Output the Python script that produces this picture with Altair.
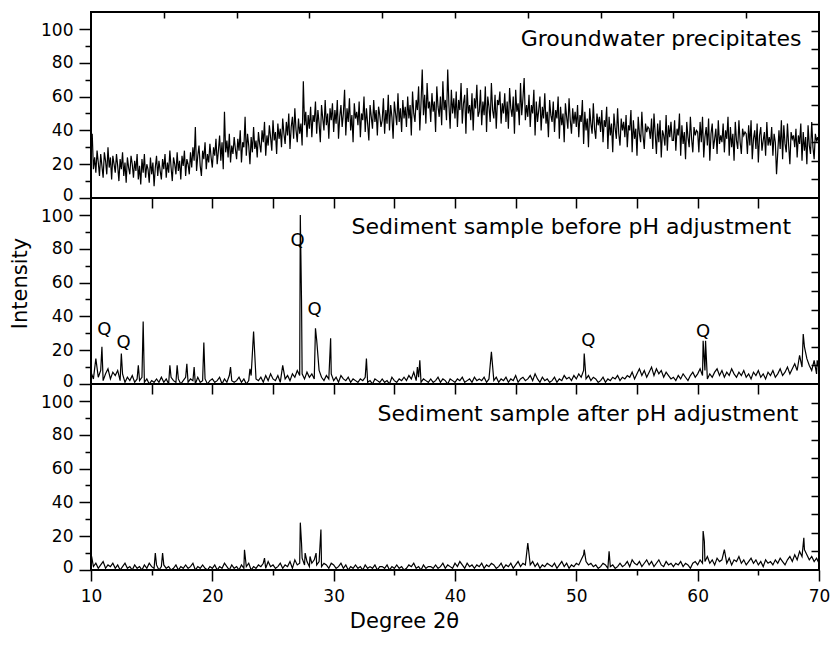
import altair as alt
import numpy as np
import pandas as pd

# ---------------- data ----------------
# Groundwater precipitates: one value every 0.1 degree from 10 to 70
GW_START, GW_STEP = 10.0, 0.1
gw_y = [
    30, 38, 17, 24, 15, 28, 21, 13, 26, 19, 12, 27, 22, 14, 30, 18, 24, 11, 25, 20,
    15, 26, 19, 10, 23, 17, 27, 13, 21, 9, 24, 18, 14, 25, 20, 12, 22, 16, 26, 11,
    19, 8, 23, 15, 26, 12, 20, 17, 9, 24, 14, 21, 7, 18, 25, 13, 22, 16, 11, 23,
    17, 26, 12, 21, 15, 28, 18, 10, 24, 20, 14, 27, 16, 22, 11, 25, 19, 28, 13, 23,
    20, 14, 27, 18, 30, 22, 42, 16, 25, 31, 19, 13, 28, 23, 33, 17, 26, 21, 32, 24,
    18, 30, 25, 35, 20, 28, 37, 22, 33, 17, 51, 27, 34, 24, 38, 21, 31, 26, 36, 29,
    23, 35, 28, 40, 21, 33, 30, 48, 25, 38, 31, 20, 36, 27, 42, 29, 34, 24, 39, 32,
    27, 40, 33, 45, 25, 37, 31, 43, 36, 28, 46, 34, 39, 26, 44, 35, 41, 30, 47, 38,
    32, 45, 37, 50, 29, 42, 48, 35, 53, 40, 33, 47, 38, 44, 31, 69, 43, 51, 36, 49,
    41, 54, 36, 49, 45, 57, 38, 52, 44, 33, 55, 47, 40, 58, 43, 50, 35, 53, 46, 56,
    39, 52, 44, 58, 35, 48, 55, 42, 50, 64, 37, 53, 45, 59, 40, 49, 33, 56, 47, 51,
    43, 57, 36, 50, 46, 60, 39, 53, 44, 34, 55, 48, 41, 58, 45, 52, 37, 54, 49, 42,
    46, 59, 38, 52, 44, 61, 40, 55, 48, 35, 57, 50, 43, 62, 45, 53, 39, 58, 47, 54,
    42, 60, 47, 55, 37, 63, 50, 45, 58, 52, 66, 40, 56, 76, 49, 61, 44, 68, 53, 57,
    45, 62, 51, 57, 39, 66, 54, 48, 60, 43, 69, 52, 58, 46, 76, 55, 41, 64, 50, 59,
    47, 63, 42, 58, 52, 68, 44, 56, 61, 38, 65, 50, 55, 46, 62, 40, 59, 53, 67, 48,
    51, 64, 43, 57, 49, 66, 39, 60, 54, 45, 68, 52, 47, 61, 41, 58, 55, 63, 44, 56,
    50, 62, 45, 57, 41, 65, 53, 48, 60, 38, 64, 51, 56, 43, 68, 49, 59, 71, 46, 55,
    48, 61, 42, 55, 50, 64, 37, 57, 45, 52, 60, 40, 54, 47, 62, 44, 51, 36, 58, 49,
    45, 57, 39, 52, 47, 60, 35, 54, 43, 50, 33, 56, 48, 41, 59, 46, 38, 53, 44, 51,
    42, 55, 36, 49, 45, 58, 32, 51, 40, 47, 30, 53, 44, 38, 56, 41, 35, 50, 43, 48,
    39, 52, 33, 46, 42, 54, 29, 48, 37, 44, 27, 50, 41, 35, 53, 38, 31, 47, 40, 45,
    36, 49, 30, 43, 40, 52, 27, 46, 35, 41, 25, 48, 38, 33, 51, 37, 29, 44, 39, 42,
    41, 35, 47, 29, 50, 38, 26, 44, 33, 46, 24, 40, 37, 31, 49, 28, 43, 36, 45, 34,
    34, 46, 28, 41, 37, 50, 25, 43, 32, 39, 23, 45, 36, 30, 48, 35, 27, 42, 37, 40,
    39, 27, 45, 33, 48, 24, 36, 42, 31, 47, 22, 38, 44, 29, 35, 41, 26, 46, 32, 37,
    33, 44, 27, 40, 35, 48, 25, 42, 30, 38, 22, 45, 34, 29, 46, 33, 26, 41, 37, 39,
    38, 26, 43, 31, 46, 23, 35, 40, 29, 44, 21, 37, 42, 28, 34, 39, 25, 45, 31, 36,
    31, 42, 25, 38, 33, 14, 27, 40, 29, 46, 23, 43, 32, 27, 44, 31, 20, 39, 35, 37,
    30, 41, 24, 37, 32, 44, 22, 39, 28, 36, 20, 43, 31, 26, 45, 30, 23, 38, 34, 36,
    30,
]

# Sediment samples: background every 0.2 degree + individual peaks
BG_START, BG_STEP = 10.0, 0.2
before_base = [
    7, 3, 9, 4, 8, 2, 6, 9, 3, 7,
    5, 8, 2, 6, 1, 4, 2, 5, 1, 3,
    2, 4, 1, 3, 0, 2, 1, 3, 1, 4,
    1, 3, 0, 4, 2, 1, 3, 0, 2, 4,
    1, 3, 2, 0, 4, 1, 2, 3, 0, 2,
    3, 1, 2, 4, 0, 3, 1, 5, 2, 1,
    2, 4, 1, 3, 0, 2, 5, 1, 3, 2,
    4, 1, 5, 2, 6, 3, 2, 5, 1, 4,
    3, 5, 2, 6, 4, 8, 5, 6, 3, 7,
    4, 6, 3, 5, 8, 4, 2, 5, 3, 6,
    2, 4, 1, 5, 3, 2, 4, 1, 3, 2,
    1, 3, 2, 4, 1, 2, 0, 3, 2, 1,
    3, 1, 2, 0, 4, 2, 1, 3, 2, 4,
    2, 5, 3, 7, 2, 4, 1, 3, 2, 1,
    3, 1, 2, 4, 1, 3, 2, 0, 3, 2,
    1, 3, 2, 4, 1, 2, 3, 1, 4, 2,
    3, 2, 4, 1, 3, 5, 2, 4, 1, 3,
    2, 4, 1, 3, 2, 5, 1, 3, 4, 2,
    3, 5, 2, 6, 3, 1, 4, 2, 3, 1,
    2, 4, 1, 3, 2, 5, 3, 4, 2, 5,
    3, 6, 4, 8, 3, 5, 2, 4, 3, 1,
    2, 4, 1, 3, 2, 4, 3, 5, 2, 4,
    3, 5, 4, 7, 3, 6, 9, 5, 8, 4,
    7, 10, 5, 9, 6, 8, 4, 7, 5, 3,
    4, 2, 5, 3, 6, 4, 2, 5, 7, 4,
    6, 9, 5, 8, 3, 6, 4, 7, 9, 5,
    8, 4, 7, 5, 9, 6, 4, 7, 5, 8,
    4, 6, 3, 7, 5, 8, 4, 6, 3, 7,
    5, 8, 4, 6, 9, 5, 7, 10, 6, 9,
    12, 8, 17, 10, 22, 15, 11, 8, 14, 6,
    9,
]
before_peak_x = [10.4, 10.9, 12.5, 13.9, 14.3, 16.5, 17.1, 17.9, 18.5, 19.3,
                 21.5, 23.1, 23.4, 25.8, 27.25, 27.35, 28.5, 28.6, 29.75, 32.7,
                 36.9, 37.1, 43.0, 50.65, 60.45, 60.65, 68.7, 69.85]
before_peak_y = [15, 22, 18, 11, 37, 11, 11, 12, 10, 24.5,
                 10, 9, 31, 11, 100, 50, 33, 26, 27, 15,
                 10, 14, 19, 18, 25.5, 25.5, 29.6, 14]

after_base = [
    6, 2, 4, 1, 3, 5, 1, 3, 2, 4,
    1, 3, 0, 2, 4, 1, 2, 0, 3, 1,
    2, 0, 3, 1, 4, 2, 1, 3, 0, 2,
    3, 1, 2, 0, 1, 3, 0, 2, 1, 3,
    1, 2, 4, 0, 2, 1, 3, 1, 0, 2,
    1, 3, 0, 2, 1, 4, 2, 0, 3, 1,
    2, 0, 3, 1, 2, 4, 0, 2, 1, 3,
    2, 4, 1, 5, 2, 3, 1, 2, 4, 1,
    3, 2, 5, 1, 6, 3, 4, 7, 3, 5,
    2, 4, 6, 3, 5, 2, 4, 3, 1, 4,
    3, 1, 2, 4, 1, 3, 0, 2, 1, 3,
    1, 2, 0, 3, 1, 2, 1, 3, 0, 2,
    2, 1, 3, 0, 2, 1, 3, 1, 2, 0,
    1, 3, 2, 4, 1, 2, 0, 3, 1, 2,
    2, 1, 3, 1, 2, 4, 1, 3, 2, 1,
    4, 2, 5, 3, 1, 4, 2, 3, 1, 3,
    2, 4, 1, 3, 2, 4, 3, 1, 2, 4,
    1, 3, 2, 4, 1, 3, 5, 2, 4, 3,
    6, 3, 5, 2, 4, 1, 3, 2, 4, 3,
    2, 4, 1, 3, 5, 2, 4, 1, 3, 2,
    4, 3, 6, 9, 5, 3, 4, 2, 3, 1,
    2, 4, 3, 1, 2, 3, 1, 2, 4, 2,
    3, 5, 2, 6, 4, 3, 5, 2, 4, 6,
    3, 5, 2, 4, 6, 3, 2, 5, 3, 4,
    2, 4, 3, 5, 2, 4, 3, 1, 4, 5,
    3, 6, 4, 5, 8, 4, 6, 3, 7, 5,
    6, 9, 4, 7, 3, 6, 5, 8, 4, 6,
    3, 5, 7, 4, 6, 3, 5, 2, 6, 4,
    5, 3, 6, 4, 7, 5, 3, 6, 8, 5,
    9, 6, 11, 8, 12, 9, 6, 8, 5, 7,
    4,
]
after_peak_x = [10.05, 15.3, 15.9, 22.65, 24.3, 27.25, 27.35, 27.65, 28.05,
                28.55, 28.95, 46.0, 50.65, 52.7, 60.45, 60.55, 62.2, 68.75]
after_peak_y = [8, 10, 10, 12, 7, 28, 16, 10, 8,
                10, 24, 16, 12, 11, 23, 17, 12, 19]

panel_labels = ["Groundwater precipitates",
                "Sediment sample before pH adjustment",
                "Sediment sample after pH adjustment"]
label_x = [68.55, 67.7, 68.3]
label_y = [90.0, 88.5, 88.0]

q_x = [11.09, 12.68, 27.02, 28.42, 50.99, 60.44]
q_y = [32, 24.3, 84.5, 43.9, 25.7, 30.6]

# ---------------- helpers ----------------
FONT = "DejaVu Sans"
W, H = 728, 186
XD = [10, 70]
YD = [0, 110]

LABEL_OFFSET = {"condition": [{"test": "datum.value === 0", "value": -3},
                              {"test": "datum.value === 100", "value": 1.5}],
                "value": 0}


def series(base, start, step, px=(), py=()):
    xs = np.round(start + step * np.arange(len(base)), 3).tolist()
    d = dict(zip(xs, base))
    for a, b in zip(px, py):
        d[round(a, 3)] = b
    return pd.DataFrame(sorted(d.items()), columns=["x", "y"])


def xs_(axis):
    return alt.X("x:Q", scale=alt.Scale(domain=XD, nice=False, zero=False), axis=axis)


def ys_(axis):
    return alt.Y("y:Q", scale=alt.Scale(domain=YD, nice=False, zero=False), axis=axis)


def panel(df, idx, bottom=False, top_ticks=False, ytitle=None, qs=False):
    if bottom:
        xmain = alt.Axis(values=list(range(10, 71, 10)), tickSize=11, labelPadding=7,
                         labelFlush=False, title="Degree 2θ", titlePadding=6,
                         titleX=313, orient="bottom")
        xminor = alt.Axis(values=list(range(15, 70, 10)), tickSize=5, labels=False,
                          title=None, orient="bottom")
    else:
        xmain = alt.Axis(values=list(range(15, 70, 5)), tickSize=10, labels=False,
                         title=None, orient="bottom")
        xminor = None
    if ytitle:
        ymain = alt.Axis(values=list(range(0, 101, 20)), tickSize=12, labelPadding=6,
                         labelFlush=False, labelOffset=LABEL_OFFSET,
                         title=ytitle, titlePadding=10, titleY=85, orient="left")
    else:
        ymain = alt.Axis(values=list(range(0, 101, 20)), tickSize=12, labelPadding=6,
                         labelFlush=False, labelOffset=LABEL_OFFSET,
                         title=None, orient="left")
    yminor = alt.Axis(values=list(range(10, 100, 20)), tickSize=6, labels=False,
                      title=None, orient="left")

    base = alt.Chart(df)
    layers = [
        base.mark_line(color="black", strokeWidth=1.2, clip=True).encode(
            x=xs_(xmain), y=ys_(ymain)),
        base.mark_line(opacity=0).encode(x=xs_(xminor), y=ys_(yminor)),
        base.mark_line(opacity=0).encode(
            x=xs_(None),
            y=ys_(alt.Axis(values=list(range(11, 100, 11)), tickSize=8, labels=False,
                           title=None, orient="left", offset=-W))),
    ]
    if top_ticks:
        layers.append(base.mark_line(opacity=0).encode(
            x=xs_(alt.Axis(values=list(range(16, 65, 6)), tickSize=6, labels=False,
                           title=None, orient="bottom", offset=-H)),
            y=ys_(None)))
    lab = pd.DataFrame({"x": [label_x[idx]], "y": [label_y[idx]], "t": [panel_labels[idx]]})
    layers.append(alt.Chart(lab).mark_text(align="right", baseline="alphabetic", font=FONT,
                                           fontSize=22, color="black").encode(
        x=xs_(None), y=ys_(None), text="t:N"))
    if qs:
        qdf = pd.DataFrame({"x": q_x, "y": q_y, "t": ["Q"] * len(q_x)})
        layers.append(alt.Chart(qdf).mark_text(align="center", baseline="middle", font=FONT,
                                               fontSize=18, color="black").encode(
            x=xs_(None), y=ys_(None), text="t:N"))
    return alt.layer(*layers).resolve_scale(x="independent", y="independent").properties(
        width=W, height=H)


p1 = panel(series(gw_y, GW_START, GW_STEP), 0, top_ticks=True)
p2 = panel(series(before_base, BG_START, BG_STEP, before_peak_x, before_peak_y), 1,
           ytitle="Intensity", qs=True)
p3 = panel(series(after_base, BG_START, BG_STEP, after_peak_x, after_peak_y), 2, bottom=True)

chart = alt.vconcat(p1, p2, p3, spacing=0, bounds="flush").properties(
    padding={"left": 0, "top": 2, "right": 0, "bottom": 0}
).configure_view(
    stroke="black", strokeWidth=2
).configure_axis(
    domain=False, grid=False, ticks=True, tickColor="black", tickWidth=1.5,
    labelFont=FONT, labelFontSize=17, labelColor="black",
    titleFont=FONT, titleFontSize=21, titleFontWeight="normal", titleColor="black",
)

chart.save("out.html", embed_options={"renderer": "svg", "actions": False})
